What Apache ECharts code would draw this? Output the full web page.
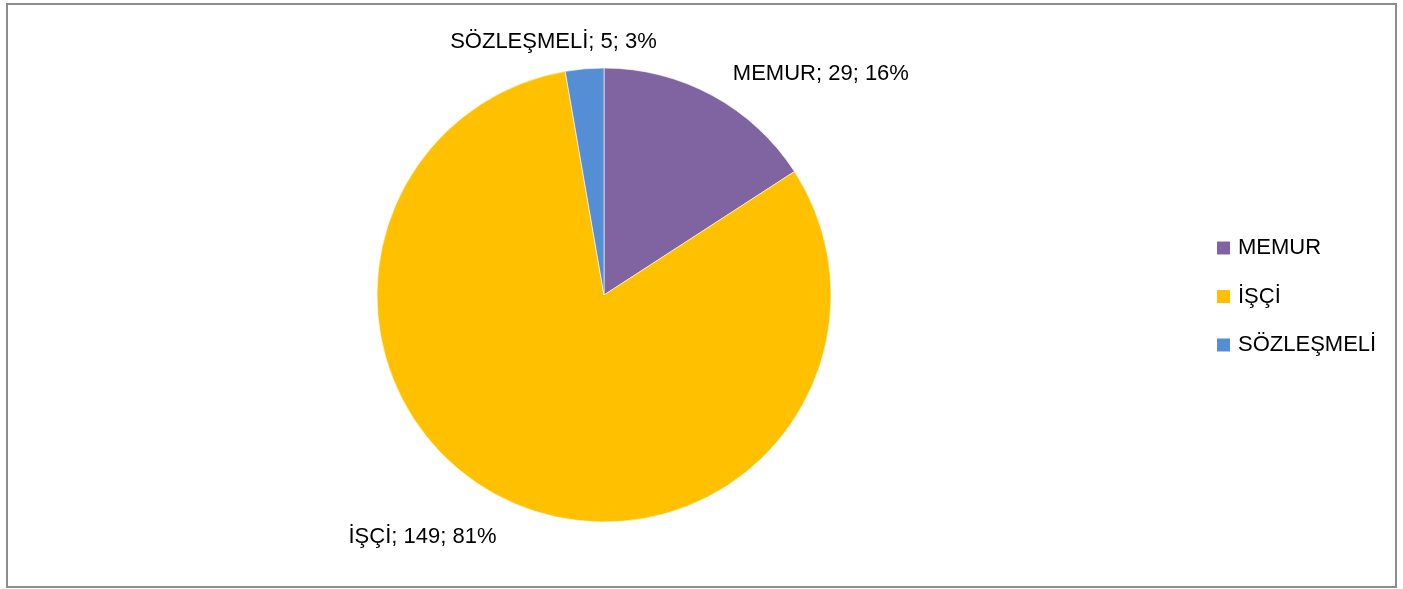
<!DOCTYPE html>
<html><head><meta charset="utf-8">
<script src="https://cdn.jsdelivr.net/npm/echarts@6/dist/echarts.min.js"></script>
<style>
html,body{margin:0;padding:0;background:#fff;}
#frame{position:absolute;left:6px;top:3px;width:1391px;height:585px;box-sizing:border-box;border:2px solid #8d8d8d;}
#chart{position:absolute;left:0;top:0;width:1403px;height:589px;}
</style></head><body>
<div id="frame"></div>
<div id="chart"></div>
<script>
const categories = ['MEMUR', 'İŞÇİ', 'SÖZLEŞMELİ'];
const values = [29, 149, 5];
const colors = ['#8064A2', '#FFC000', '#558ED5'];

const total = values.reduce((a, b) => a + b, 0);
const chart = echarts.init(document.getElementById('chart'), null, {renderer: 'canvas'});
const FONT = '"Liberation Sans", Arial, sans-serif';
chart.setOption({
  animation: false,
  color: colors,
  legend: {
    orient: 'vertical',
    left: 1215,
    top: 236,
    padding: 0,
    itemWidth: 15,
    itemHeight: 15,
    itemGap: 24.5,
    icon: 'rect',
    data: categories,
    textStyle: {fontFamily: FONT, fontSize: 22, color: '#000', lineHeight: 24, padding: [0, 0, 0, 2]}
  },
  series: [{
    type: 'pie',
    center: [604, 295],
    radius: 227,
    startAngle: 90,
    clockwise: true,
    data: categories.map((c, i) => ({name: c, value: values[i]})),
    itemStyle: {borderColor: '#ffffff', borderWidth: 0.6},
    label: {
      show: true,
      position: 'outside',
      fontFamily: FONT,
      fontSize: 22,
      color: '#000',
      formatter: p => p.name + '; ' + p.value + '; ' + Math.round(p.value / total * 100) + '%'
    },
    labelLine: {show: false, length: 24, length2: 6},
    labelLayout: p => (p.dataIndex === 2 ? {align: 'center', dx: -18, dy: -3} : (p.dataIndex === 1 ? {dx: 4, dy: 12} : {dx: -2, dy: -1}))
  }]
});
</script>
</body></html>
